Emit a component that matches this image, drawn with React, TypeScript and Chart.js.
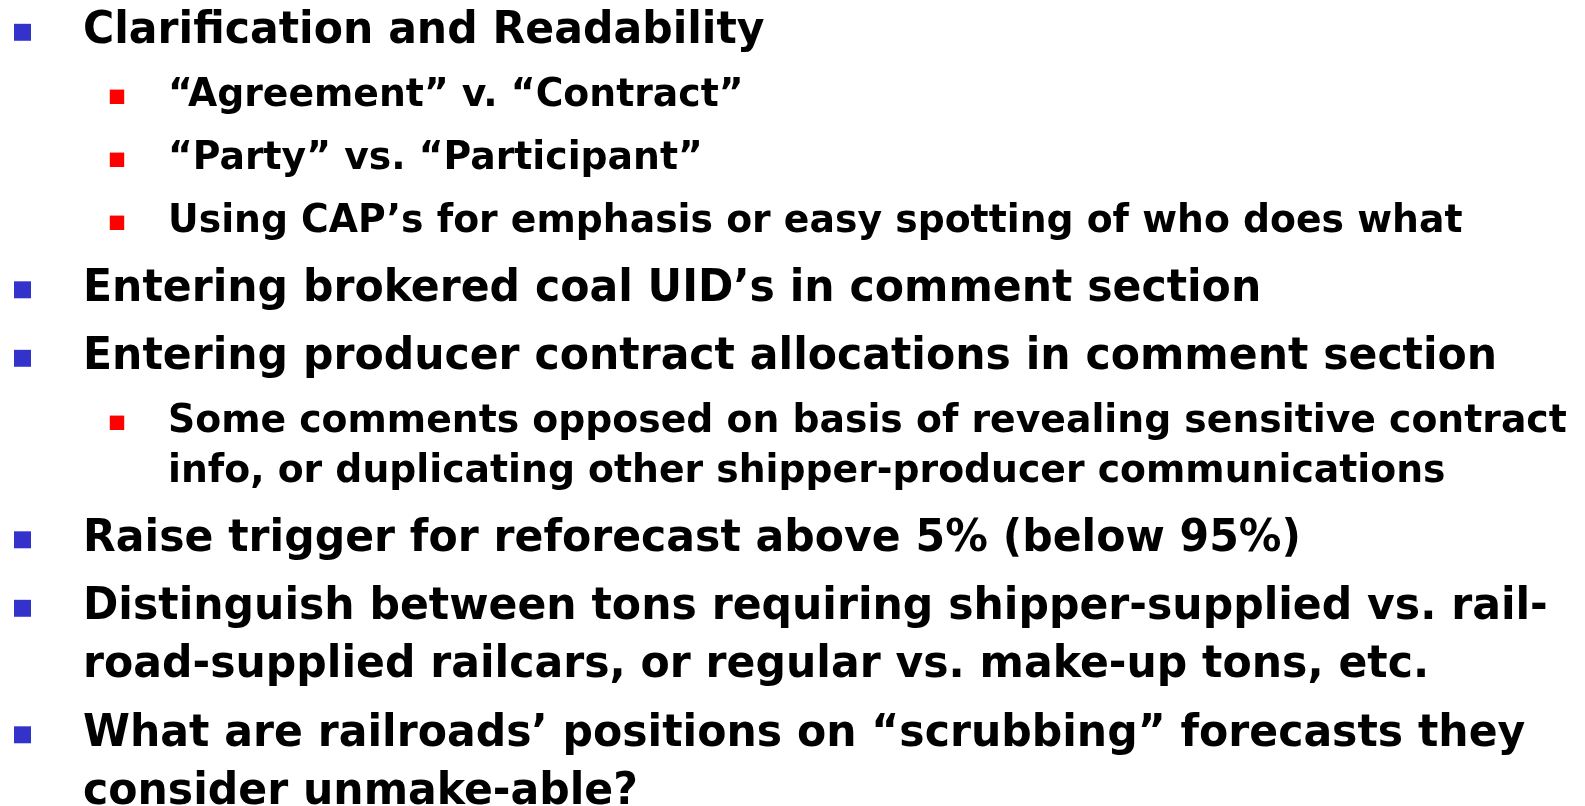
import React, { useEffect, useRef } from "react";
import { Chart, registerables } from "chart.js";

Chart.register(...registerables);

// Slide content: each visual line with its outline level and whether it continues the previous bullet
const lineTexts: string[] = [
  "Clarification and Readability",
  "\u201CAgreement\u201D v. \u201CContract\u201D",
  "\u201CParty\u201D vs. \u201CParticipant\u201D",
  "Using CAP\u2019s for emphasis or easy spotting of who does what",
  "Entering brokered coal UID\u2019s in comment section",
  "Entering producer contract allocations in comment section",
  "Some comments opposed on basis of revealing sensitive contract",
  "info, or duplicating other shipper-producer communications",
  "Raise trigger for reforecast above 5% (below 95%)",
  "Distinguish between tons requiring shipper-supplied vs. rail-",
  "road-supplied railcars, or regular vs. make-up tons, etc.",
  "What are railroads\u2019 positions on \u201Cscrubbing\u201D forecasts they",
  "consider unmake-able?",
];
const lineLevels: number[] = [0, 1, 1, 1, 0, 0, 1, 1, 0, 0, 0, 0, 0];
const lineContinues: boolean[] = [false, false, false, false, false, false, false, true, false, false, true, false, true];

const W = 1585;
const H = 806;

// layout (styling), per level
const FONT_FAMILY = '"DejaVu Sans", Verdana, sans-serif';
const fontSize = [44, 39];
const textScaleX = 0.968;
const textX = [83, 168];
const bulletX = [22.5, 117];
const bulletDy = [-11, -9.5];
const bulletColor = ["#3333CC", "#FF0000"];
const bulletRadius = [12.0, 10.2];
const paraGap = [68.5, 63];
const contGap = [58, 50];
const firstBaseline = 43.3;

function baselines(): number[] {
  const out: number[] = [];
  let y = firstBaseline;
  lineTexts.forEach((_, i) => {
    if (i > 0) {
      const lv = lineLevels[i];
      y += lineContinues[i] ? contGap[lv] : paraGap[lv];
    }
    out.push(y);
  });
  return out;
}

export default function App() {
  const ref = useRef<HTMLCanvasElement | null>(null);
  useEffect(() => {
    document.body.style.margin = "0";
    const canvas = ref.current;
    if (!canvas) return;
    const bl = baselines();
    const points: { x: number; y: number }[] = [];
    const colors: string[] = [];
    const radii: number[] = [];
    lineTexts.forEach((_, i) => {
      if (lineContinues[i]) return;
      const lv = lineLevels[i];
      points.push({ x: bulletX[lv], y: bl[i] + bulletDy[lv] });
      colors.push(bulletColor[lv]);
      radii.push(bulletRadius[lv]);
    });

    const textPlugin = {
      id: "slideText",
      afterDatasetsDraw(chart: any) {
        const ctx = chart.ctx as CanvasRenderingContext2D;
        const xs = chart.scales.x;
        const ys = chart.scales.y;
        ctx.save();
        ctx.fillStyle = "#000000";
        ctx.textBaseline = "alphabetic";
        ctx.textAlign = "left";
        lineTexts.forEach((t, i) => {
          const lv = lineLevels[i];
          ctx.font = `bold ${fontSize[lv]}px ${FONT_FAMILY}`;
          const px = xs.getPixelForValue(textX[lv]);
          const py = ys.getPixelForValue(bl[i]);
          ctx.save();
          ctx.translate(px, py);
          ctx.scale(textScaleX, 1);
          ctx.fillText(t, 0, 0);
          ctx.restore();
        });
        ctx.restore();
      },
    };

    const chart = new Chart(canvas, {
      type: "scatter",
      data: {
        datasets: [
          {
            data: points,
            pointStyle: "rect",
            pointRadius: radii,
            pointBackgroundColor: colors,
            pointBorderWidth: 0,
            pointBorderColor: colors,
            clip: false,
          } as any,
        ],
      },
      options: {
        animation: false,
        responsive: false,
        maintainAspectRatio: false,
        layout: { padding: 0, autoPadding: false } as any,
        plugins: { legend: { display: false }, tooltip: { enabled: false } },
        events: [],
        scales: {
          x: { type: "linear", min: 0, max: W, display: false },
          y: { type: "linear", min: 0, max: H, reverse: true, display: false },
        },
      },
      plugins: [textPlugin],
    });
    return () => chart.destroy();
  }, []);

  return (
    <div style={{ width: W, height: H, background: "#ffffff" }}>
      <canvas ref={ref} width={W} height={H} style={{ display: "block" }} />
    </div>
  );
}
